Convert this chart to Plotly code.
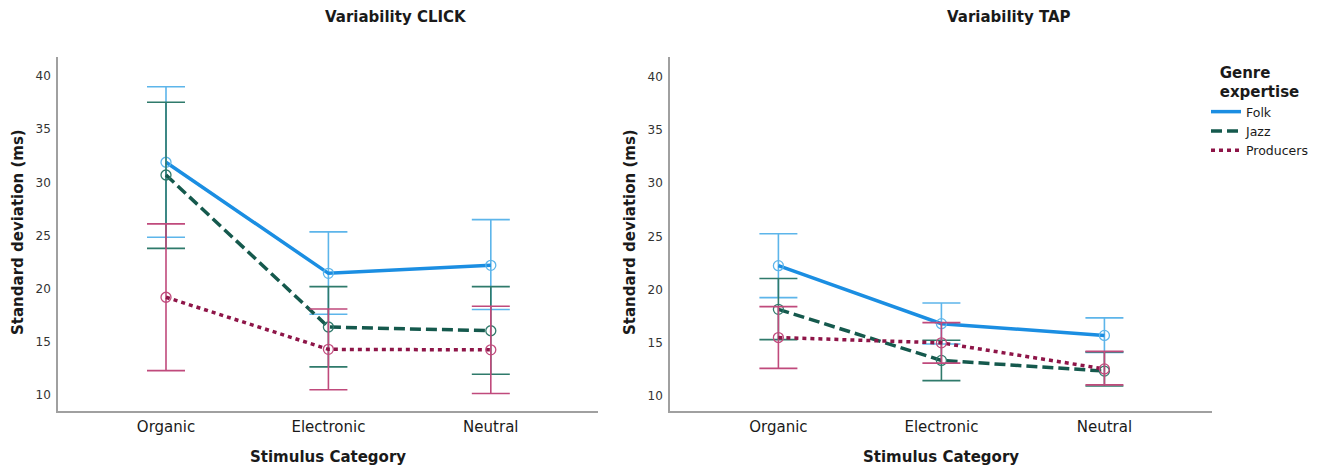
import plotly.graph_objects as go

categories = ["Organic", "Electronic", "Neutral"]
groups = ["Folk", "Jazz", "Producers"]

# Variability CLICK: means and CI bounds
click_mean = {"Folk": [31.9, 21.45, 22.2], "Jazz": [30.7, 16.4, 16.05], "Producers": [19.2, 14.3, 14.25]}
click_upper = {"Folk": [39.0, 25.35, 26.5], "Jazz": [37.55, 20.2, 20.2], "Producers": [26.1, 18.1, 18.35]}
click_lower = {"Folk": [24.85, 17.6, 18.05], "Jazz": [23.8, 12.65, 11.95], "Producers": [12.3, 10.5, 10.15]}

# Variability TAP: means and CI bounds
tap_mean = {"Folk": [22.25, 16.8, 15.7], "Jazz": [18.15, 13.35, 12.35], "Producers": [15.5, 15.0, 12.55]}
tap_upper = {"Folk": [25.25, 18.75, 17.35], "Jazz": [21.05, 15.25, 14.15], "Producers": [18.4, 16.9, 14.2]}
tap_lower = {"Folk": [19.25, 14.9, 14.1], "Jazz": [15.3, 11.45, 10.95], "Producers": [12.6, 13.1, 11.05]}

y_ticks = [10, 15, 20, 25, 30, 35, 40]

line_colors = {"Folk": "#1b8ee2", "Jazz": "#15594d", "Producers": "#8e1548"}
bar_colors = {"Folk": "#5db5ea", "Jazz": "#2f7a6b", "Producers": "#c04a7c"}
dashes = {"Folk": "solid", "Jazz": "11px,5px", "Producers": "4px,4px"}

FONT = "DejaVu Sans"
PAGE_W, PAGE_H = 1318, 470
OFF = 8  # default body margin of the html page
W, H = PAGE_W - OFF, PAGE_H - OFF

fig = go.Figure()

panels = [
    ("x", "y", click_mean, click_upper, click_lower),
    ("x2", "y2", tap_mean, tap_upper, tap_lower),
]
for xa, ya, mean, upper, lower in panels:
    for g in groups:
        m = mean[g]
        up = [u - v for u, v in zip(upper[g], m)]
        dn = [v - l for l, v in zip(lower[g], m)]
        fig.add_trace(go.Scatter(
            x=categories, y=m, xaxis=xa, yaxis=ya,
            mode="lines+markers", name=g, showlegend=False, legendgroup=g,
            line=dict(color=line_colors[g], width=3.5, dash=dashes[g]),
            marker=dict(symbol="circle-open", size=10, color=bar_colors[g], line=dict(width=1.3)),
            error_y=dict(type="data", symmetric=False, array=up, arrayminus=dn,
                         color=bar_colors[g], thickness=1.6, width=19),
        ))

# legend-only entries (lines without markers)
for g in groups:
    fig.add_trace(go.Scatter(
        x=[None], y=[None], xaxis="x", yaxis="y", mode="lines", name=g,
        legendgroup=g, showlegend=True,
        line=dict(color=line_colors[g], width=3.5, dash=dashes[g]),
    ))


def px(x):
    return (x - OFF) / W


def py(y):
    return 1 - (y - OFF) / H


xaxis_common = dict(
    type="category", categoryorder="array", categoryarray=categories,
    range=[-0.665, 2.66], showgrid=False, zeroline=False,
    showline=True, linecolor="#a0a0a0", linewidth=1.6, ticks="",
    tickfont=dict(family=FONT, size=15, color="#1a1a1a"),
    ticklabelstandoff=1,
)
yaxis_common = dict(
    tickvals=y_ticks, showgrid=False, zeroline=False,
    showline=True, linecolor="#a0a0a0", linewidth=1.6, ticks="",
    tickfont=dict(family=FONT, size=12, color="#333333"),
    ticklabelstandoff=3,
)

fig.update_layout(
    width=W, height=H,
    margin=dict(l=0, r=0, t=0, b=0),
    paper_bgcolor="white", plot_bgcolor="white",
    font=dict(family=FONT, color="#1a1a1a"),
    xaxis=dict(domain=[px(58), px(598)], anchor="y", **xaxis_common),
    yaxis=dict(domain=[py(411), py(57)], anchor="x", range=[8.5, 41.8], **yaxis_common),
    xaxis2=dict(domain=[px(670), px(1212)], anchor="y2", **xaxis_common),
    yaxis2=dict(domain=[py(411), py(57)], anchor="x2", range=[8.6, 41.85], **yaxis_common),
    legend=dict(
        title=dict(text="<b>Genre<br>expertise</b>", font=dict(family=FONT, size=15, color="#1a1a1a"), side="top center"),
        x=px(1206), y=py(58), xanchor="left", yanchor="top",
        font=dict(family=FONT, size=12.5, color="#1a1a1a"),
        itemwidth=30, tracegroupgap=0, bgcolor="rgba(0,0,0,0)",
        borderwidth=0,
    ),
    showlegend=True,
)

annotations = [
    dict(text="<b>Variability CLICK</b>", x=px(396), y=py(17)),
    dict(text="<b>Variability TAP</b>", x=px(1009), y=py(17)),
    dict(text="<b>Stimulus Category</b>", x=px(328), y=py(457)),
    dict(text="<b>Stimulus Category</b>", x=px(941), y=py(457)),
]
for a in annotations:
    fig.add_annotation(xref="paper", yref="paper", showarrow=False,
                       xanchor="center", yanchor="middle",
                       font=dict(family=FONT, size=15, color="#1a1a1a"), **a)
for xpos in [18, 630]:
    fig.add_annotation(xref="paper", yref="paper", showarrow=False,
                       x=px(xpos), y=py(232), textangle=-90,
                       xanchor="center", yanchor="middle",
                       text="<b>Standard deviation (ms)</b>",
                       font=dict(family=FONT, size=15, color="#1a1a1a"))

fig.write_html("out.html")
